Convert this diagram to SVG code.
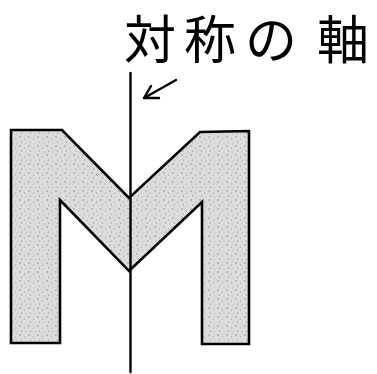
<svg xmlns="http://www.w3.org/2000/svg" width="377" height="374" viewBox="0 0 377 374">
  <style>
    .outline { stroke: #000; stroke-width: 2.6; stroke-linejoin: miter; fill: url(#stipple); }
    .line { stroke: #000; stroke-width: 2.4; fill: none; stroke-linecap: round; stroke-linejoin: round; }
    .label { font-family: "Noto Sans CJK JP", "Noto Sans", sans-serif; font-size: 52px; fill: #000; text-anchor: middle; }
  </style>
  <defs>
    <pattern id="stipple" width="9" height="9" patternUnits="userSpaceOnUse">
      <rect width="9" height="9" fill="#dcdcdc"/>
      <circle cx="2" cy="2" r="0.7" fill="#8a8a8a"/>
      <circle cx="6.5" cy="4" r="0.6" fill="#999"/>
      <circle cx="3.5" cy="7" r="0.6" fill="#888"/>
      <circle cx="8" cy="8" r="0.5" fill="#aaa"/>
    </pattern>
  </defs>
  <rect width="377" height="374" fill="#fff"/>
  <g id="shape-M">
    <path class="outline" d="M11,130 L62,130 L129,198 L200,132 L249,131 L249,344 L202,344 L202,202 L129,271 L60,200 L60,343 L11,343 Z"/>
  </g>
  <g id="label">
    <text class="label" x="150 210 271 343" y="59">対称の軸</text>
  </g>
  <g id="connectors">
    <line id="axis" class="line" x1="130.5" y1="73" x2="130.5" y2="372"/>
    <path id="arrow" class="line" d="M176,80 L144,98 M144,98 L151,86 M144,98 L159,98"/>
  </g>
</svg>
